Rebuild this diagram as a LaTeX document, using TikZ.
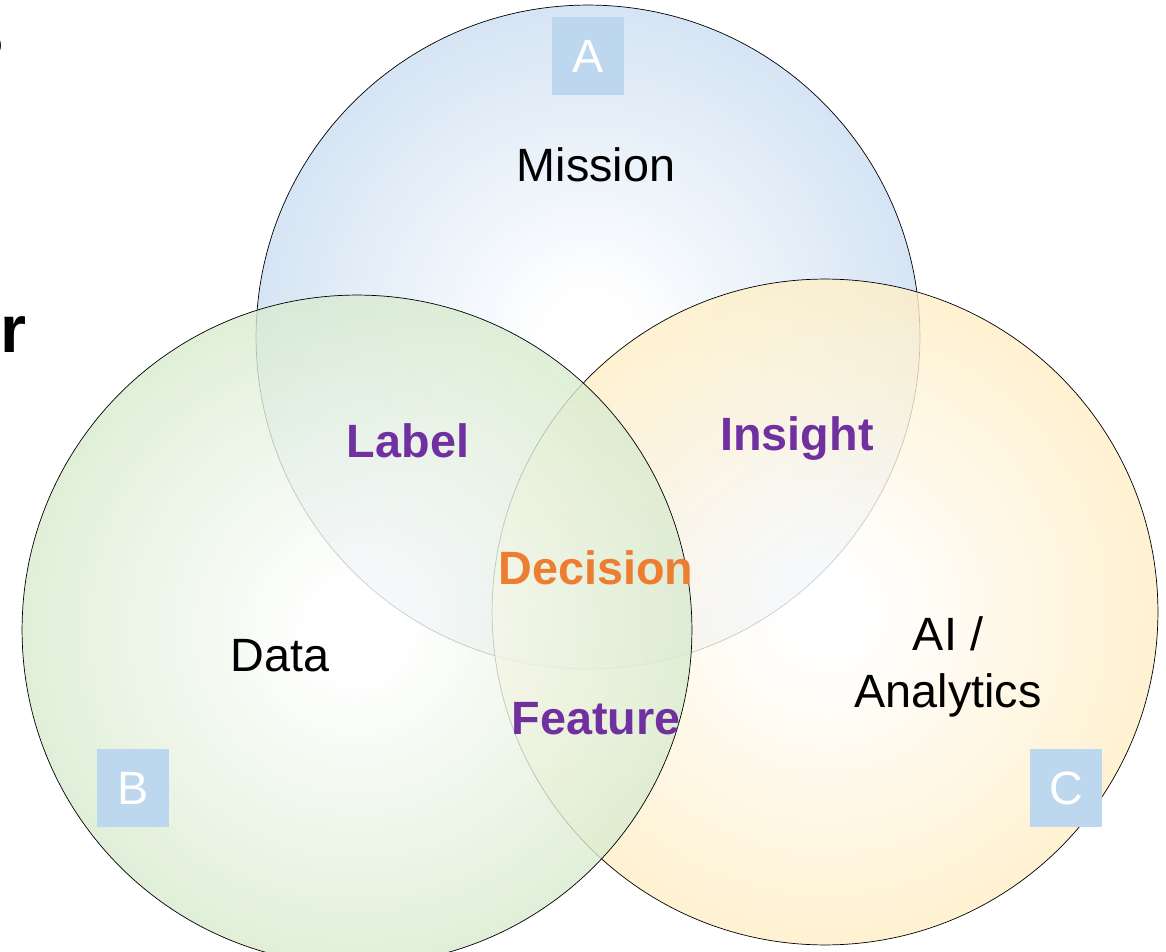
\documentclass[tikz,border=0pt]{standalone}
\usepackage{fontspec}
\setmainfont{Liberation Sans}
\definecolor{bluerim}{RGB}{180,207,236}
\definecolor{greenrim}{RGB}{200,226,186}
\definecolor{yellowrim}{RGB}{255,231,172}
\definecolor{tagblue}{RGB}{189,215,238}
\definecolor{overlap}{RGB}{112,48,160}
\definecolor{centre}{RGB}{237,125,49}
\pgfdeclareradialshading{blueball}{\pgfpoint{0bp}{0bp}}{color(0bp)=(white); color(3bp)=(white); color(35bp)=(bluerim); color(50bp)=(bluerim)}
\pgfdeclareradialshading{greenball}{\pgfpoint{0bp}{0bp}}{color(0bp)=(white); color(3bp)=(white); color(35bp)=(greenrim); color(50bp)=(greenrim)}
\pgfdeclareradialshading{yellowball}{\pgfpoint{0bp}{0bp}}{color(0bp)=(white); color(3bp)=(white); color(35bp)=(yellowrim); color(50bp)=(yellowrim)}
\begin{document}
\begin{tikzpicture}[x=0.02cm, y=-0.02cm,
    set/.style={circle, draw, thin, shade, fill opacity=0.8, inner sep=0pt},
    tag/.style={fill=tagblue, text=white, minimum width=1.44cm, minimum height=1.58cm, inner sep=0pt},
    word/.style={anchor=base, inner sep=0pt, font=\fontsize{26.6}{32}\selectfont},
    meet/.style={word, font=\fontsize{26.6}{32}\selectfont\bfseries}]
    \useasboundingbox (0,0) rectangle (1166,952);
    \clip (0,0) rectangle (1166,952);

    % the three sets, B on top
    \node[set, shading=blueball, minimum size=13.28cm] (A) at (588,337) {};
    \node[set, shading=yellowball, minimum size=13.32cm] (C) at (825,612) {};
    \node[set, shading=greenball, minimum size=13.4cm] (B) at (357,630) {};

    % cut-off heading at the left edge
    \node[anchor=base east, inner sep=0pt, font=\fontsize{38}{46}\selectfont\bfseries] (cut1) at (6,80) {?};
    \node[anchor=base east, inner sep=0pt, font=\fontsize{38}{46}\selectfont\bfseries] (cut2) at (27,353) {r};

    \node[word] (mission) at (596,182) {Mission};
    \node[word] (data) at (280,671) {Data};
    \node[word, align=center] (ai) at (948,707) {AI /\\Analytics};

    \node[meet, text=overlap] (label) at (408,458) {Label};
    \node[meet, text=overlap] (insight) at (797,451) {Insight};
    \node[meet, text=centre] (decision) at (596,584) {Decision};
    \node[meet, text=overlap] (feature) at (596,734) {Feature};

    \node[tag, font=\fontsize{26.6}{32}\selectfont] (tagA) at (588,56) {A};
    \node[tag, font=\fontsize{26.6}{32}\selectfont] (tagB) at (133,788) {B};
    \node[tag, font=\fontsize{26.6}{32}\selectfont] (tagC) at (1066,788) {C};
\end{tikzpicture}
\end{document}
